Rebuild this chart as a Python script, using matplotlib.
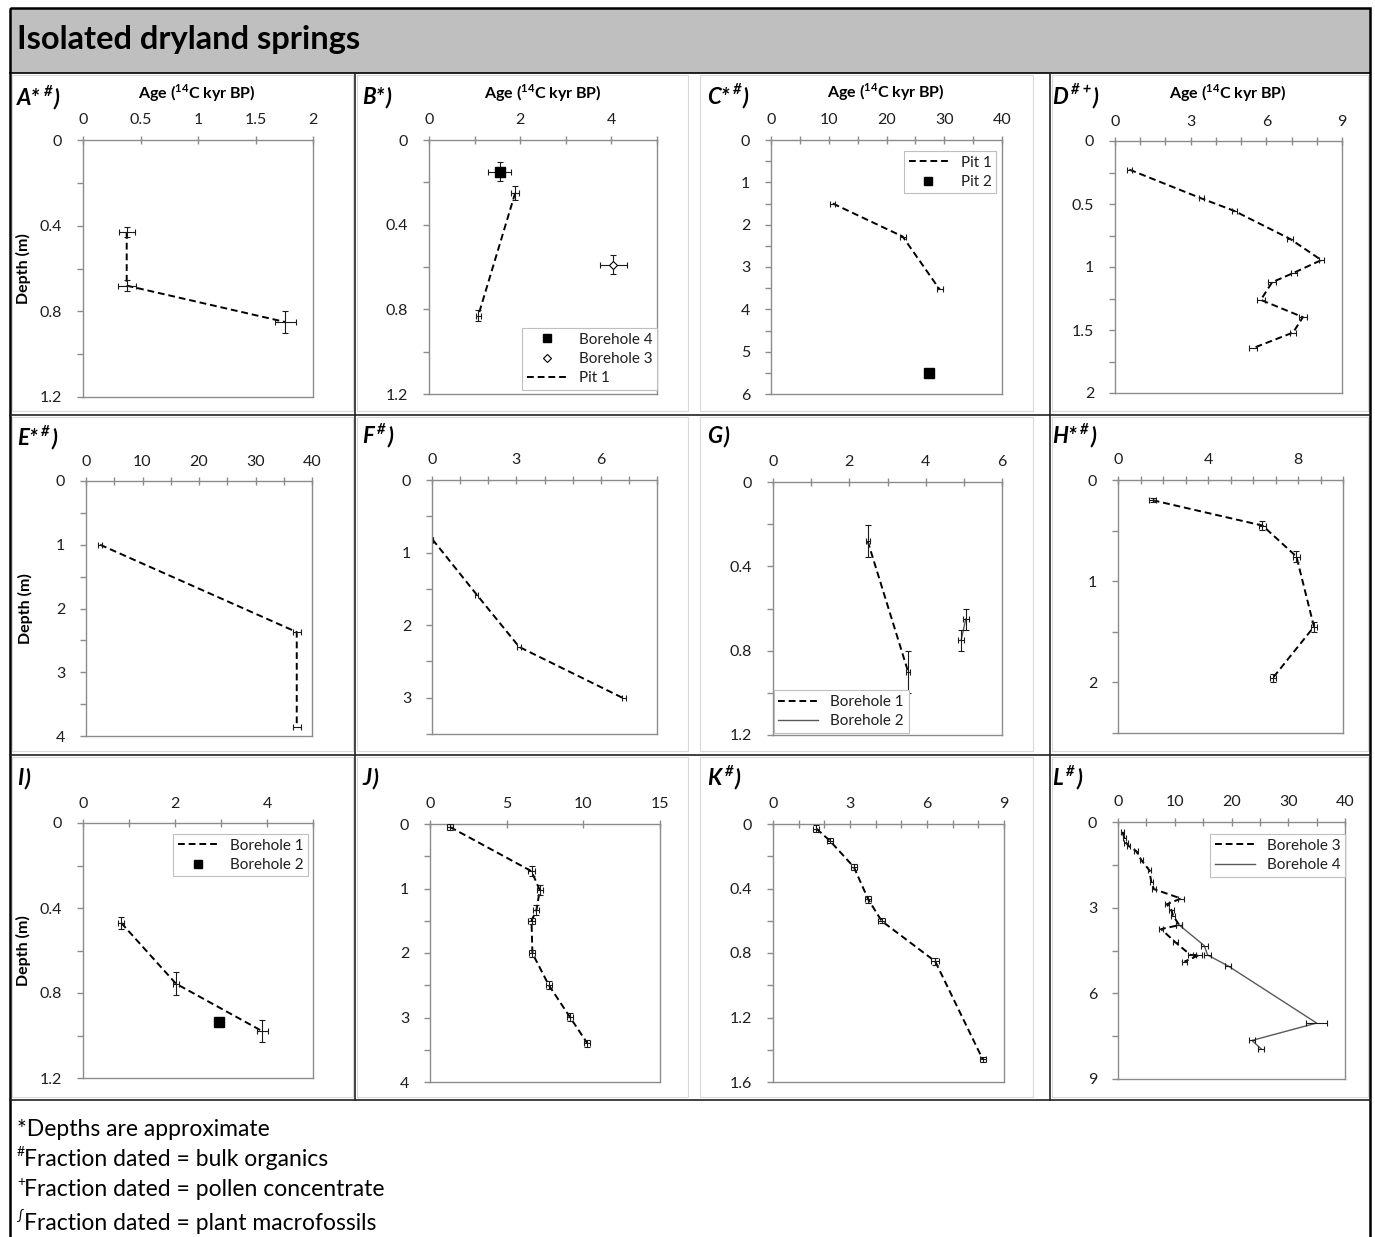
import matplotlib
matplotlib.use("Agg")
import matplotlib.pyplot as plt
import matplotlib.ticker as ticker
from matplotlib.lines import Line2D
from matplotlib.patches import Rectangle

plt.rcParams["font.family"] = ["Lato", "DejaVu Sans"]
plt.rcParams["mathtext.fontset"] = "custom"
plt.rcParams["mathtext.rm"] = "Lato"
plt.rcParams["mathtext.bf"] = "Lato:bold"

W, H = 1375, 1237

# ---------------- data (age in 14C kyr BP, depth in m) ----------------
# A
a_age = [0.38, 0.38, 1.76]
a_age_err = [0.07, 0.08, 0.09]
a_depth = [0.43, 0.68, 0.85]
a_depth_err = [0.025, 0.025, 0.05]

# B
b_pit1_age = [1.89, 1.08]
b_pit1_age_err = [0.09, 0.06]
b_pit1_depth = [0.25, 0.83]
b_pit1_depth_err = [0.035, 0.025]
b_bh4_age = [1.55]
b_bh4_age_err = [0.25]
b_bh4_depth = [0.15]
b_bh4_depth_err = [0.045]
b_bh3_age = [4.04]
b_bh3_age_err = [0.3]
b_bh3_depth = [0.59]
b_bh3_depth_err = [0.045]

# C
c_pit1_age = [10.7, 22.8, 29.2]
c_pit1_age_err = [0.4, 0.5, 0.5]
c_pit1_depth = [1.5, 2.28, 3.53]
c_pit2_age = [27.3]
c_pit2_depth = [5.5]

# D
d_age = [0.57, 3.43, 4.72, 6.95, 8.18, 7.10, 6.23, 5.78, 7.45, 7.06, 5.47]
d_age_err = [0.1, 0.1, 0.1, 0.12, 0.1, 0.12, 0.15, 0.15, 0.15, 0.12, 0.15]
d_depth = [0.227, 0.456, 0.554, 0.778, 0.945, 1.045, 1.121, 1.261, 1.398, 1.52, 1.644]

# E
e_age = [2.5, 37.3, 37.3]
e_age_err = [0.4, 0.7, 0.7]
e_depth = [1.0, 2.37, 3.86]

# F
f_age = [0.02, 1.59, 3.10, 6.82]
f_age_err = [0.0, 0.06, 0.08, 0.08]
f_depth = [0.82, 1.58, 2.30, 3.01]

# G
g_bh1_age = [2.48, 3.54]
g_bh1_age_err = [0.05, 0.05]
g_bh1_depth = [0.28, 0.90]
g_bh1_depth_err = [0.075, 0.1]
g_bh2_age = [5.05, 4.93]
g_bh2_age_err = [0.08, 0.08]
g_bh2_depth = [0.65, 0.75]
g_bh2_depth_err = [0.05, 0.05]

# H
h_age = [1.54, 6.42, 7.93, 8.71, 6.89]
h_age_err = [0.15, 0.15, 0.15, 0.15, 0.15]
h_depth = [0.20, 0.45, 0.756, 1.45, 1.954]
h_depth_err = [0.02, 0.04, 0.05, 0.05, 0.04]

# I
i_bh1_age = [0.83, 2.02, 3.90]
i_bh1_age_err = [0.06, 0.06, 0.12]
i_bh1_depth = [0.47, 0.756, 0.98]
i_bh1_depth_err = [0.03, 0.053, 0.051]
i_bh2_age = [2.95]
i_bh2_depth = [0.936]

# J
j_age = [1.30, 6.62, 7.16, 6.94, 6.62, 6.68, 7.74, 9.13, 10.26]
j_age_err = [0.2, 0.2, 0.2, 0.2, 0.2, 0.2, 0.2, 0.2, 0.2]
j_depth = [0.046, 0.732, 1.026, 1.335, 1.50, 2.005, 2.495, 2.995, 3.40]
j_depth_err = [0.05, 0.08, 0.08, 0.08, 0.05, 0.05, 0.06, 0.06, 0.05]

# K
k_age = [1.69, 2.21, 3.15, 3.71, 4.23, 6.32, 8.17]
k_age_err = [0.12, 0.12, 0.12, 0.12, 0.12, 0.15, 0.12]
k_depth = [0.029, 0.103, 0.267, 0.467, 0.601, 0.852, 1.459]
k_depth_err = [0.02, 0.015, 0.02, 0.02, 0.015, 0.02, 0.015]

# L
l_bh3_age = [0.82, 1.11, 1.41, 1.88, 3.17, 4.1, 5.51, 5.87, 6.33, 11.1, 8.6, 9.4, 9.7, 10.8,
             7.6, 10.1, 12.8, 14.3, 11.7]
l_bh3_depth = [0.35, 0.56, 0.72, 0.84, 1.01, 1.33, 1.69, 2.10, 2.35, 2.68, 2.88, 3.08, 3.28, 3.61,
               3.75, 4.21, 4.66, 4.66, 4.89]
l_bh3_age_err = [0.3, 0.3, 0.3, 0.3, 0.3, 0.3, 0.3, 0.3, 0.4, 0.5, 0.4, 0.4, 0.4, 0.5,
                 0.4, 0.4, 0.5, 0.5, 0.4]
l_bh4_age = [10.8, 15.2, 15.8, 19.4, 35.0, 23.6, 25.2]
l_bh4_age_err = [0.5, 0.6, 0.6, 0.5, 1.8, 0.5, 0.5]
l_bh4_depth = [3.61, 4.33, 4.66, 5.04, 7.04, 7.65, 7.94]

footnotes = [("", "*Depths are approximate"),
             ("#", "Fraction dated = bulk organics"),
             ("+", "Fraction dated = pollen concentrate"),
             ("\u222b", "Fraction dated = plant macrofossils")]

# ---------------- styles ----------------
SPINE = "#8c8c8c"
TXT = "#1f1f1f"
DASH = (0, (3.5, 2.0))
LW = 1.4
TICK_FS = 11.5
LAB_FS = 11.5

fig = plt.figure(figsize=(W / 100, H / 100), dpi=100)
bg = fig.add_axes([0, 0, 1, 1])
bg.set_xlim(0, W)
bg.set_ylim(H, 0)
bg.axis("off")

# title band, frame, separators
bg.add_patch(Rectangle((10, 8), 1360, 65, facecolor="#bfbfbf", edgecolor="none"))
bg.text(17, 40, "Isolated dryland springs", fontsize=23.5, fontweight="bold", va="center", color="black")
for (x0, x1) in [(12, 353), (357, 688), (700, 1033), (1052, 1368)]:
    for (y0, y1) in [(75, 411), (417, 751), (757, 1097)]:
        bg.add_patch(Rectangle((x0, y0), x1 - x0, y1 - y0, facecolor="none", edgecolor="#d9d9d9", lw=0.8))
bg.add_patch(Rectangle((10, 8), 1360, 1240, facecolor="none", edgecolor="black", lw=1.8))
bg.plot([10, 1370], [73, 73], color="black", lw=1.2)
for yy in [415, 755, 1100]:
    bg.plot([10, 1370], [yy, yy], color="#222222", lw=1.2)
for xx in [355, 1050]:
    bg.plot([xx, xx], [73, 1100], color="#222222", lw=1.2)


def make_axes(box, xlim, xmajor, xminor, ylim, ymajor, yminor):
    x0, y0, x1, y1 = box
    ax = fig.add_axes([x0 / W, 1 - y1 / H, (x1 - x0) / W, (y1 - y0) / H])
    ax.set_xlim(*xlim)
    ax.set_ylim(ylim[1], ylim[0])
    ax.xaxis.tick_top()
    ax.set_xticks(xmajor)
    ax.set_xticks(xminor, minor=True)
    ax.set_yticks(ymajor)
    ax.set_yticks(yminor, minor=True)
    fmt = ticker.FuncFormatter(lambda v, _: f"{v:g}")
    ax.xaxis.set_major_formatter(fmt)
    ax.yaxis.set_major_formatter(fmt)
    for s in ax.spines.values():
        s.set_color(SPINE)
        s.set_linewidth(1.0)
    ax.tick_params(axis="x", which="both", direction="inout", length=6, width=1, color=SPINE,
                   labelsize=TICK_FS, labelcolor=TXT, pad=6)
    ax.tick_params(axis="y", which="both", direction="out", length=4, width=1, color=SPINE,
                   labelsize=TICK_FS, labelcolor=TXT, pad=11)
    ax.set_facecolor("white")
    return ax


def errs(ax, x, y, xerr=None, yerr=None):
    ax.errorbar(x, y, xerr=xerr, yerr=yerr, fmt="none", ecolor="#1a1a1a", elinewidth=0.8,
                capsize=2.5, capthick=0.8, zorder=3)


def dashed(ax, x, y):
    ax.plot(x, y, color="black", lw=LW, linestyle=DASH, zorder=2)


def solid(ax, x, y):
    ax.plot(x, y, color="#595959", lw=1.0, zorder=2)


def legend(ax, handles, labels, loc, anchor):
    lg = ax.legend(handles, labels, loc=loc, bbox_to_anchor=anchor, borderaxespad=0, fontsize=11,
                   frameon=True, fancybox=False, edgecolor="#bfbfbf", framealpha=1,
                   handlelength=2.6, handletextpad=0.8, borderpad=0.3, labelspacing=0.35)
    lg.get_frame().set_linewidth(0.8)
    for t in lg.get_texts():
        t.set_color(TXT)


def panel_label(x, y, text, sups):
    t = bg.text(x, y, text, fontsize=16, fontweight="bold", fontstyle="italic", va="baseline")
    last = t
    if sups:
        last = bg.annotate(sups, xy=(1, 0.5), xycoords=t, xytext=(2.5, 0), textcoords="offset points",
                           fontsize=10.5, fontweight="bold", fontstyle="italic", va="bottom", ha="left")
    bg.annotate(")", xy=(1, 0), xycoords=(last, t), xytext=(1, 0), textcoords="offset points",
                fontsize=16, fontweight="bold", fontstyle="italic", va="bottom", ha="left")


def age_title(x, y):
    bg.text(x, y, r"Age ($^{\mathbf{14}}$C kyr BP)", ha="center", va="center",
            fontsize=LAB_FS, fontweight="bold", color="black")


def depth_label(ax, xpos):
    ax.set_ylabel("Depth (m)", fontsize=LAB_FS, fontweight="bold")
    ax.yaxis.set_label_coords(xpos, 0.5)


dash_handle = Line2D([], [], color="black", lw=LW, linestyle=DASH)
solid_handle = Line2D([], [], color="#595959", lw=1.0)
square_handle = Line2D([], [], color="black", marker="s", markersize=6, linestyle="none")
diamond_handle = Line2D([], [], color="black", marker="D", markersize=4.5, markerfacecolor="white",
                        markeredgewidth=0.8, linestyle="none")

# ---------------- row 1 ----------------
ax = make_axes((83, 140, 313, 397), (0, 2), [0, 0.5, 1, 1.5, 2], [], (0, 1.2), [0, 0.4, 0.8, 1.2], [0.2, 0.6, 1.0])
errs(ax, a_age, a_depth, a_age_err, a_depth_err)
dashed(ax, a_age, a_depth)
depth_label(ax, -0.225)
age_title(197, 93)
panel_label(17, 105, "A*", "#")

ax = make_axes((429, 140, 657, 394), (0, 5), [0, 2, 4], [1, 3, 5], (0, 1.2), [0, 0.4, 0.8, 1.2], [0.2, 0.6, 1.0])
errs(ax, b_pit1_age, b_pit1_depth, b_pit1_age_err, b_pit1_depth_err)
dashed(ax, b_pit1_age, b_pit1_depth)
errs(ax, b_bh4_age, b_bh4_depth, b_bh4_age_err, b_bh4_depth_err)
ax.plot(b_bh4_age, b_bh4_depth, marker="s", markersize=7, color="black", linestyle="none", zorder=4)
errs(ax, b_bh3_age, b_bh3_depth, b_bh3_age_err, b_bh3_depth_err)
ax.plot(b_bh3_age, b_bh3_depth, marker="D", markersize=4.5, color="black", markerfacecolor="white",
        markeredgewidth=0.8, linestyle="none", zorder=4)
legend(ax, [square_handle, diamond_handle, dash_handle], ["Borehole 4", "Borehole 3", "Pit 1"],
       "lower right", (1.0, 0.016))
age_title(543, 93)
panel_label(362, 104, "B*", "")

ax = make_axes((771, 140, 1002, 394), (0, 40), [0, 10, 20, 30, 40], [5, 15, 25, 35], (0, 6),
               [0, 1, 2, 3, 4, 5, 6], [0.5, 1.5, 2.5, 3.5, 4.5, 5.5])
errs(ax, c_pit1_age, c_pit1_depth, c_pit1_age_err, None)
dashed(ax, c_pit1_age, c_pit1_depth)
ax.plot(c_pit2_age, c_pit2_depth, marker="s", markersize=7, color="black", linestyle="none", zorder=4)
legend(ax, [dash_handle, square_handle], ["Pit 1", "Pit 2"], "upper right", (0.974, 0.957))
age_title(886, 92)
panel_label(707, 104, "C*", "#")

ax = make_axes((1115, 141, 1342, 393), (0, 9), [0, 3, 6, 9], [1, 2, 4, 5, 7, 8], (0, 2),
               [0, 0.5, 1, 1.5, 2], [0.25, 0.75, 1.25, 1.75])
errs(ax, d_age, d_depth, d_age_err, None)
dashed(ax, d_age, d_depth)
age_title(1228, 93)
panel_label(1052, 104, "D", "# +")

# ---------------- row 2 ----------------
ax = make_axes((86, 481, 312, 736), (0, 40), [0, 10, 20, 30, 40], [5, 15, 25, 35], (0, 4),
               [0, 1, 2, 3, 4], [0.5, 1.5, 2.5, 3.5])
errs(ax, e_age, e_depth, e_age_err, None)
dashed(ax, e_age, e_depth)
depth_label(ax, -0.235)
panel_label(17, 445, "E*", "#")

ax = make_axes((432, 480, 657, 734), (0, 8), [0, 3, 6], [1, 2, 4, 5, 7, 8], (0, 3.5),
               [0, 1, 2, 3], [0.5, 1.5, 2.5, 3.5])
errs(ax, f_age, f_depth, f_age_err, None)
dashed(ax, f_age, f_depth)
panel_label(362, 443, "F", "#")

ax = make_axes((773, 482, 1002, 735), (0, 6), [0, 2, 4, 6], [1, 3, 5], (0, 1.2),
               [0, 0.4, 0.8, 1.2], [0.2, 0.6, 1.0])
errs(ax, g_bh1_age, g_bh1_depth, g_bh1_age_err, g_bh1_depth_err)
dashed(ax, g_bh1_age, g_bh1_depth)
errs(ax, g_bh2_age, g_bh2_depth, g_bh2_age_err, g_bh2_depth_err)
solid(ax, g_bh2_age, g_bh2_depth)
legend(ax, [dash_handle, solid_handle], ["Borehole 1", "Borehole 2"], "lower left", (0.004, 0.008))
panel_label(707, 443, "G", "")

ax = make_axes((1118, 480, 1343, 733), (0, 10), [0, 4, 8], [1, 2, 3, 5, 6, 7, 9, 10], (0, 2.5),
               [0, 1, 2], [0.5, 1.5, 2.5])
errs(ax, h_age, h_depth, h_age_err, h_depth_err)
dashed(ax, h_age, h_depth)
panel_label(1052, 443, "H*", "#")

# ---------------- row 3 ----------------
ax = make_axes((83, 823, 313, 1078), (0, 5), [0, 2, 4], [1, 3, 5], (0, 1.2),
               [0, 0.4, 0.8, 1.2], [0.2, 0.6, 1.0])
errs(ax, i_bh1_age, i_bh1_depth, i_bh1_age_err, i_bh1_depth_err)
dashed(ax, i_bh1_age, i_bh1_depth)
ax.plot(i_bh2_age, i_bh2_depth, marker="s", markersize=6.5, color="black", linestyle="none", zorder=4)
legend(ax, [dash_handle, square_handle], ["Borehole 1", "Borehole 2"], "upper right", (0.978, 0.957))
depth_label(ax, -0.225)
panel_label(17, 785, "I", "")

ax = make_axes((430, 824, 660, 1082), (0, 15), [0, 5, 10, 15], [], (0, 4),
               [0, 1, 2, 3, 4], [0.5, 1.5, 2.5, 3.5])
errs(ax, j_age, j_depth, j_age_err, j_depth_err)
dashed(ax, j_age, j_depth)
panel_label(362, 785, "J", "")

ax = make_axes((773, 824, 1004, 1082), (0, 9), [0, 3, 6, 9], [1, 2, 4, 5, 7, 8], (0, 1.6),
               [0, 0.4, 0.8, 1.2, 1.6], [0.2, 0.6, 1.0, 1.4])
errs(ax, k_age, k_depth, k_age_err, k_depth_err)
dashed(ax, k_age, k_depth)
panel_label(707, 785, "K", "#")

ax = make_axes((1118, 822, 1345, 1079), (0, 40), [0, 10, 20, 30, 40], [5, 15, 25, 35], (0, 9),
               [0, 3, 6, 9], [1.5, 4.5, 7.5])
errs(ax, l_bh3_age, l_bh3_depth, l_bh3_age_err, None)
dashed(ax, l_bh3_age, l_bh3_depth)
errs(ax, l_bh4_age, l_bh4_depth, l_bh4_age_err, None)
solid(ax, l_bh4_age, l_bh4_depth)
legend(ax, [dash_handle, solid_handle], ["Borehole 3", "Borehole 4"], "upper right", (1.0, 0.953))
panel_label(1052, 785, "L", "#")

# ---------------- footnotes ----------------
for (sup, txt), yb in zip(footnotes, [1136, 1166, 1196, 1230]):
    if sup:
        bg.text(17, yb - 10, sup, fontsize=10, va="baseline")
        bg.text(24, yb, txt, fontsize=16.5, va="baseline")
    else:
        bg.text(17, yb, txt, fontsize=16.5, va="baseline")

fig.savefig("out.png", dpi=100, facecolor="white")
